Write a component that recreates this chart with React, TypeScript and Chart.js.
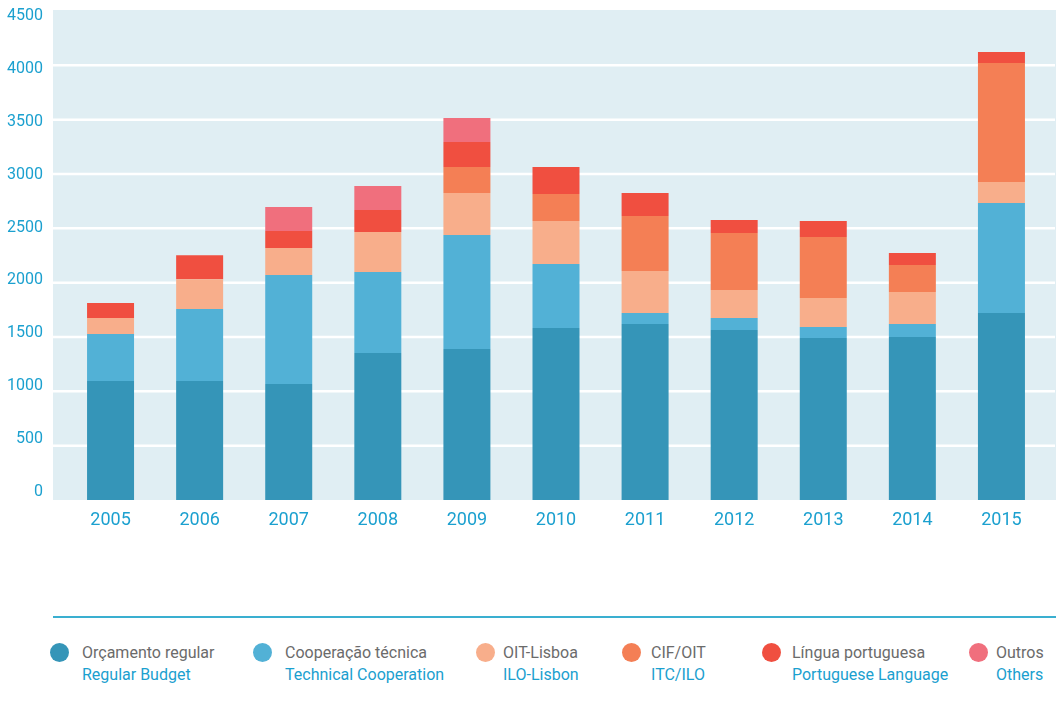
import React, { useEffect, useRef } from "react";
import { Chart, registerables } from "chart.js";

Chart.register(...registerables);

const years = ["2005", "2006", "2007", "2008", "2009", "2010", "2011", "2012", "2013", "2014", "2015"];
const regularBudget = [1095, 1095, 1067, 1353, 1390, 1583, 1620, 1564, 1491, 1500, 1721];
const technicalCooperation = [433, 663, 1003, 745, 1049, 589, 101, 111, 101, 120, 1012];
const iloLisbon = [147, 273, 249, 368, 386, 395, 386, 257, 267, 294, 193];
const itcIlo = [0, 0, 0, 0, 239, 249, 506, 525, 561, 249, 1095];
const portugueseLanguage = [138, 222, 156, 203, 230, 248, 212, 120, 147, 110, 102];
const others = [0, 0, 221, 220, 221, 0, 0, 0, 0, 0, 0];
const yTicks = [0, 500, 1000, 1500, 2000, 2500, 3000, 3500, 4000, 4500];
const gridValues = [500, 1000, 1500, 2000, 2500, 3000, 3500, 4000];

const series = [
  { pt: "Orçamento regular", en: "Regular Budget", color: "#3595B8", data: regularBudget },
  { pt: "Cooperação técnica", en: "Technical Cooperation", color: "#52B1D6", data: technicalCooperation },
  { pt: "OIT-Lisboa", en: "ILO-Lisbon", color: "#F8AE8B", data: iloLisbon },
  { pt: "CIF/OIT", en: "ITC/ILO", color: "#F47F55", data: itcIlo },
  { pt: "Língua portuguesa", en: "Portuguese Language", color: "#F04F40", data: portugueseLanguage },
  { pt: "Outros", en: "Others", color: "#F06F7D", data: others },
];

const legendPos = [
  { cx: 59, tx: 82 },
  { cx: 262, tx: 285 },
  { cx: 485, tx: 503 },
  { cx: 631, tx: 651 },
  { cx: 771, tx: 792 },
  { cx: 978, tx: 996 },
];

const BLUE = "#1BA0CF";
const FONT = "Roboto, 'Noto Sans', sans-serif";

const bgPlugin = {
  id: "bgGrid",
  beforeDatasetsDraw(chart: any) {
    const { ctx, chartArea } = chart;
    const y = chart.scales.y;
    const left = chartArea.left - 13;
    const right = chart.width;
    ctx.save();
    ctx.fillStyle = "#E0EEF3";
    ctx.fillRect(left, chartArea.top - 1, right - left, chartArea.bottom - chartArea.top + 1);
    ctx.strokeStyle = "#FFFFFF";
    ctx.lineWidth = 2.5;
    gridValues.forEach((v) => {
      const py = y.getPixelForValue(v);
      ctx.beginPath();
      ctx.moveTo(left, py);
      ctx.lineTo(right - 1, py);
      ctx.stroke();
    });
    ctx.restore();
  },
};

export default function App() {
  const ref = useRef<HTMLCanvasElement | null>(null);

  useEffect(() => {
    if (!ref.current) return;
    const chart = new Chart(ref.current, {
      type: "bar",
      data: {
        labels: years,
        datasets: series.map((s) => ({
          label: s.en,
          data: s.data,
          backgroundColor: s.color,
          borderWidth: 0,
          barPercentage: 0.5275,
          categoryPercentage: 1,
        })),
      },
      options: {
        animation: false,
        responsive: false,
        devicePixelRatio: 1,
        layout: { padding: { top: 11, right: 10, left: 0, bottom: 0 } },
        plugins: { legend: { display: false }, tooltip: { enabled: false } },
        scales: {
          x: {
            stacked: true,
            grid: { display: false, drawTicks: false },
            border: { display: false },
            ticks: { color: BLUE, font: { family: FONT, size: 18 }, padding: 10, maxRotation: 0 },
            afterFit: (s: any) => {
              s.height = 60;
            },
          },
          y: {
            stacked: true,
            display: false,
            min: 0,
            max: 4500,
          },
          yLabel: {
            type: "linear",
            position: "left",
            min: -79.5,
            max: 4551,
            grid: { display: false, drawTicks: false },
            border: { display: false },
            ticks: {
              color: BLUE,
              font: { family: FONT, size: 16 },
              padding: 23,
              callback: (v: any) => String(v),
            },
            afterBuildTicks: (s: any) => {
              s.ticks = yTicks.map((v) => ({ value: v }));
            },
            afterFit: (s: any) => {
              s.width = 66;
              s.paddingTop = 0;
              s.paddingBottom = 0;
            },
          },
        },
      } as any,
      plugins: [bgPlugin],
    });
    return () => chart.destroy();
  }, []);

  return (
    <div style={{ position: "absolute", left: 0, top: 0, width: 1056, height: 704, background: "#fff", fontFamily: FONT }}>
      <canvas ref={ref} width={1056} height={560} style={{ display: "block", width: 1056, height: 560 }} />
      <div style={{ position: "absolute", left: 53, right: 0, top: 616, height: 2, background: "#3AAFD0" }} />
      {series.map((s, i) => (
        <React.Fragment key={s.en}>
          <div
            style={{
              position: "absolute",
              left: legendPos[i].cx - 9.5,
              top: 652 - 9.5,
              width: 19,
              height: 19,
              borderRadius: "50%",
              background: s.color,
            }}
          />
          <div
            style={{
              position: "absolute",
              left: legendPos[i].tx,
              top: 642,
              fontSize: 16,
              lineHeight: "22px",
              whiteSpace: "nowrap",
            }}
          >
            <div style={{ color: "#6B6B6B" }}>{s.pt}</div>
            <div style={{ color: BLUE }}>{s.en}</div>
          </div>
        </React.Fragment>
      ))}
    </div>
  );
}
